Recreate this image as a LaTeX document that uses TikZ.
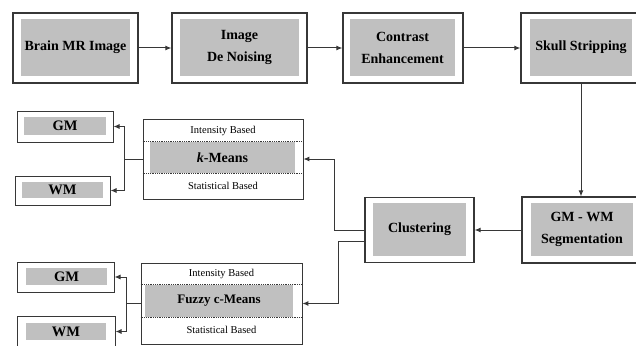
\documentclass[tikz,border=0pt]{standalone}
\usepackage{fontspec}
\setmainfont{Liberation Serif}
\usetikzlibrary{arrows.meta}
\definecolor{boxgray}{RGB}{192,192,192}
\definecolor{linegray}{RGB}{55,55,55}
\tikzset{
  outerbox/.style={draw=linegray,line width=1.2pt,fill=white,inner sep=0pt},
  innerbox/.style={fill=boxgray,inner sep=0pt,align=center,
    font=\fontsize{14}{22}\selectfont\bfseries},
  tissuebox/.style={fill=boxgray,inner sep=0pt,font=\fontsize{14.5}{16}\selectfont\bfseries},
  rowtext/.style={inner sep=0pt,font=\fontsize{10.5}{12}\selectfont},
  rowsep/.style={draw=linegray,densely dotted,line width=0.8pt},
  link/.style={draw=linegray,line width=1pt},
  conn/.style={link,-{Latex[length=6pt,width=5pt]}}
}
\begin{document}
\begin{tikzpicture}[x=1pt,y=-1pt]
\useasboundingbox (0,0) rectangle (636,345);
% top row
\node[outerbox,minimum width=125,minimum height=70] (brain) at (75.5,48) {};
\node[innerbox,minimum width=109,minimum height=57] (brainin) at (75.5,47.5) {Brain MR Image};
\node[outerbox,minimum width=135,minimum height=70] (denoise) at (239.5,48) {};
\node[innerbox,minimum width=119,minimum height=57] (denoisein) at (239.5,47.5) {Image\\De Noising};
\node[outerbox,minimum width=120,minimum height=70] (contrast) at (403,48) {};
\node[innerbox,minimum width=105,minimum height=57] (contrastin) at (402.5,47.5) {Contrast\\Enhancement};
\node[outerbox,minimum width=120,minimum height=70] (skull) at (581,48) {};
\node[innerbox,minimum width=102,minimum height=57] (skullin) at (581,47.5) {Skull Stripping};
% middle row
\node[outerbox,minimum width=118,minimum height=66] (gmwm) at (581,230) {};
\node[innerbox,minimum width=102,minimum height=53] (gmwmin) at (582,229.5) {GM - WM\\Segmentation};
\node[outerbox,minimum width=109,minimum height=65] (clust) at (419.5,230) {};
\node[innerbox,minimum width=93,minimum height=53] (clustin) at (419.5,229.5) {Clustering};
% k-means block
\node[outerbox,line width=0.8pt,minimum width=160,minimum height=80] (kmeans) at (223,159) {};
\node[innerbox,minimum width=145,minimum height=31] (km) at (222.5,157.5) {\textit{k}-Means};
\node[rowtext] (kmtop) at (223,131) {Intensity Based};
\node[rowtext] (kmbot) at (223,186) {Statistical Based};
\draw[rowsep] (kmeans.west |- km.north) -- (kmeans.east |- km.north);
\draw[rowsep] (kmeans.west |- km.south) -- (kmeans.east |- km.south);
% fuzzy c-means block
\node[outerbox,line width=0.8pt,minimum width=161,minimum height=81] (fuzzy) at (221.5,303.5) {};
\node[innerbox,font=\fontsize{13}{16}\selectfont\bfseries,minimum width=148,minimum height=32] (fcm) at (219,301) {Fuzzy c-Means};
\node[rowtext] (fztop) at (221.5,274) {Intensity Based};
\node[rowtext] (fzbot) at (221.5,330) {Statistical Based};
\draw[rowsep] (fuzzy.west |- fcm.north) -- (fuzzy.east |- fcm.north);
\draw[rowsep] (fuzzy.west |- fcm.south) -- (fuzzy.east |- fcm.south);
% tissue outputs
\node[outerbox,line width=1pt,minimum width=96,minimum height=31] (gma) at (65,126.5) {};
\node[tissuebox,minimum width=82,minimum height=18] (gmain) at (65,126) {GM};
\node[outerbox,line width=1pt,minimum width=95,minimum height=29] (wma) at (62.5,190.5) {};
\node[tissuebox,minimum width=81,minimum height=16] (wmain) at (62.5,190) {WM};
\node[outerbox,line width=1pt,minimum width=97,minimum height=30] (gmb) at (65.5,277) {};
\node[tissuebox,minimum width=81,minimum height=17] (gmbin) at (66.5,276.5) {GM};
\node[outerbox,line width=1pt,minimum width=98,minimum height=31] (wmb) at (66,331.5) {};
\node[tissuebox,minimum width=80,minimum height=17] (wmbin) at (66,331.5) {WM};
% connectors
\draw[conn] (brain) -- (denoise);
\draw[conn] (denoise) -- (contrast);
\draw[conn] (contrast) -- (skull);
\draw[conn] (skull) -- (gmwm);
\draw[conn] (gmwm.west) -- (clust.east);
\coordinate (kmbend) at (334,0);
\coordinate (fzbend) at (338,0);
\draw[conn] (clust.west) -- (clust.west -| kmbend) |- (kmeans.east);
\draw[conn] ([yshift=-11pt]clust.west) -- ([yshift=-11pt]clust.west -| fzbend) |- (fuzzy.east);
\draw[link] (kmeans.west) -- ++(-18,0) coordinate (kmsplit);
\draw[conn] (kmsplit) |- (gma.east);
\draw[conn] (kmsplit) |- (wma.east);
\draw[link] (fuzzy.west) -- ++(-14,0) coordinate (fzsplit);
\draw[conn] (fzsplit) |- (gmb.east);
\draw[conn] (fzsplit) |- (wmb.east);
\end{tikzpicture}
\end{document}
